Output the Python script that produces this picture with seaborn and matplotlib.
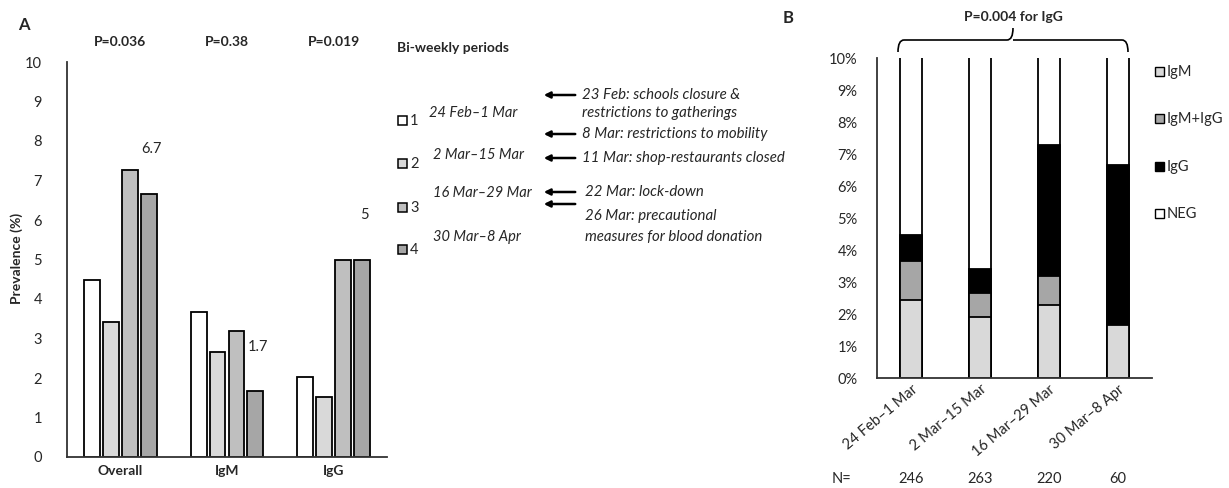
import numpy as np
import pandas as pd
import matplotlib
matplotlib.use("Agg")
import matplotlib.pyplot as plt
import seaborn as sns
from matplotlib.patches import Rectangle, PathPatch, FancyArrowPatch
from matplotlib.path import Path

# ---- data ----
groups = ["Overall", "IgM", "IgG"]
period_ids = ["1", "2", "3", "4"]
periods = ["24 Feb\u20131 Mar", "2 Mar\u201315 Mar", "16 Mar\u201329 Mar", "30 Mar\u20138 Apr"]
overall = [4.47, 3.42, 7.27, 6.67]
igm_prev = [3.66, 2.66, 3.18, 1.67]
igg_prev = [2.03, 1.52, 5.00, 5.00]
p_values = ["P=0.036", "P=0.38", "P=0.019"]
shown_labels = ["6.7", "1.7", "5"]

n_donors = [246, 263, 220, 60]
igm_only = [2.44, 1.90, 2.27, 1.67]
igm_igg = [1.22, 0.76, 0.91, 0.00]
igg_only = [0.81, 0.76, 4.09, 5.00]
neg = [100 - a - b - c for a, b, c in zip(igm_only, igm_igg, igg_only)]
status = ["IgM", "IgM+IgG", "IgG", "NEG"]

events = ["23 Feb: schools closure &", "restrictions to gatherings",
          "8 Mar: restrictions to mobility", "11 Mar: shop-restaurants closed",
          "22 Mar: lock-down", "26 Mar: precautional", "measures for blood donation"]

# ---- style ----
sns.set_style("white")
plt.rcParams["font.family"] = ["Lato", "DejaVu Sans"]
plt.rcParams["font.size"] = 10

W, H = 1229, 488
fig = plt.figure(figsize=(W / 100, H / 100), dpi=100)


def fx(x):
    return x / W


def fy(y):
    return 1 - y / H


period_colors = ["#ffffff", "#d9d9d9", "#bfbfbf", "#a6a6a6"]
axis_col = "#333333"

# ---- panel A ----
axA = fig.add_axes([fx(67), fy(457), fx(387) - fx(67), fy(62) - fy(457)])
dfA = pd.DataFrame({
    "group": np.repeat(groups, 4),
    "period": period_ids * 3,
    "value": overall + igm_prev + igg_prev,
})
sns.barplot(data=dfA, x="group", y="value", hue="period", order=groups,
            hue_order=period_ids, palette=period_colors, width=0.71, gap=0.16,
            edgecolor="black", linewidth=1.3, legend=False, ax=axA)
axA.set_ylim(0, 10)
axA.set_xlim(-0.5, 2.5)
axA.set_yticks(range(0, 11))
axA.tick_params(axis="y", length=0, pad=18, labelsize=10.5)
axA.tick_params(axis="x", length=0, pad=6)
for lab in axA.get_xticklabels():
    lab.set_fontweight("bold")
axA.set_xlabel("")
axA.set_ylabel("")
for s in ["top", "right"]:
    axA.spines[s].set_visible(False)
for s in ["left", "bottom"]:
    axA.spines[s].set_color(axis_col)
    axA.spines[s].set_linewidth(1.3)
fig.text(fx(17), fy(258), "Prevalence (%)", rotation=90, ha="center", va="center",
         fontweight="bold", fontsize=10)

# value labels above the 4th period bar of each group
last_bars = axA.containers[3]
for bar, txt in zip(last_bars, shown_labels):
    axA.annotate(txt, (bar.get_x() + bar.get_width() / 2, bar.get_height()),
                 xytext=(2, 27), textcoords="offset points", ha="center",
                 va="bottom", fontsize=10.5)

for i, p in enumerate(p_values):
    axA.text(i, 10.35, p, ha="center", va="bottom", fontweight="bold", fontsize=10)

fig.text(fx(18), fy(25), "A", fontweight="bold", fontsize=12, va="center")
fig.text(fx(397), fy(48), "Bi-weekly periods", fontweight="bold", fontsize=10, va="center")

# period legend
sq_y = [121, 164, 208, 250]
lab_y = [113, 155, 193, 237]
for pid, col, y in zip(period_ids, period_colors, sq_y):
    fig.add_artist(Rectangle((fx(398), fy(y + 4)), fx(9), 9 / H, facecolor=col,
                             edgecolor="black", linewidth=1.1))
    fig.text(fx(410), fy(y), pid, va="center", fontsize=10.5)
for pl, y, x in zip(periods, lab_y, [429, 433, 433, 433]):
    fig.text(fx(x), fy(y), pl, va="center", style="italic", fontsize=10.5)

# events with arrows
for y in [95, 134, 158, 192, 204]:
    fig.add_artist(FancyArrowPatch(
        (fx(578), fy(y)), (fx(541), fy(y)), transform=fig.transFigure,
        arrowstyle="-|>", mutation_scale=9, linewidth=1.8, color="black"))
ev_pos = [(582, 95), (582, 113), (582, 134), (582, 158), (585, 192), (585, 216), (585, 237)]
for txt, (x, y) in zip(events, ev_pos):
    fig.text(fx(x), fy(y), txt, va="center", style="italic", fontsize=10.8)

# ---- panel B ----
axB = fig.add_axes([fx(877), fy(378), fx(1152) - fx(877), fy(58) - fy(378)])
cum = np.cumsum([igm_only, igm_igg, igg_only, neg], axis=0)
status_colors = ["#d9d9d9", "#a6a6a6", "#000000", "#ffffff"]
# draw tallest (cumulative) first so lower segments sit on top
for k in [3, 2, 1, 0]:
    dfB = pd.DataFrame({"period": periods, "value": cum[k]})
    sns.barplot(data=dfB, x="period", y="value", order=periods, color=status_colors[k],
                width=0.32, edgecolor="black", linewidth=1.3, ax=axB)
axB.set_ylim(0, 10)
axB.set_xlim(-0.5, 3.5)
axB.set_yticks(range(0, 11))
axB.set_yticklabels([f"{v}%" for v in range(0, 11)])
axB.tick_params(axis="y", length=0, pad=14, labelsize=10.5)
axB.tick_params(axis="x", length=0, pad=3, labelsize=10.5)
plt.setp(axB.get_xticklabels(), rotation=40, ha="right", rotation_mode="anchor")
axB.set_xlabel("")
axB.set_ylabel("")
for s in ["top", "right"]:
    axB.spines[s].set_visible(False)
for s in ["left", "bottom"]:
    axB.spines[s].set_color(axis_col)
    axB.spines[s].set_linewidth(1.3)

# N row
fig.text(fx(842), fy(479), "N=", ha="center", va="center", fontsize=10.5)
for i, n in enumerate(n_donors):
    xd = axB.transData.transform((i, 0))[0]
    fig.text(xd / fig.dpi / fig.get_figwidth(), fy(479), str(n), ha="center",
             va="center", fontsize=10.5)

# status legend
for st, col, y in zip(status, status_colors, [72, 119, 167, 214]):
    fig.add_artist(Rectangle((fx(1155), fy(y + 4)), fx(9), 9 / H, facecolor=col,
                             edgecolor="black", linewidth=1.0))
    fig.text(fx(1167), fy(y), st, va="center", fontsize=10.5)

# brace
xl, xr, xm = 898, 1128, 1013
yb, yh, yt = 52, 40, 28
verts = [(xl, yb), (xl, yh), (xl + 6, yh), (xm - 6, yh), (xm, yh), (xm, yt),
         (xm, yh), (xm + 6, yh), (xr - 6, yh), (xr, yh), (xr, yb)]
codes = [Path.MOVETO, Path.CURVE3, Path.CURVE3, Path.LINETO, Path.CURVE3, Path.CURVE3,
         Path.MOVETO, Path.CURVE3, Path.LINETO, Path.CURVE3, Path.CURVE3]
verts = [(fx(x), fy(y)) for x, y in verts]
fig.add_artist(PathPatch(Path(verts, codes), transform=fig.transFigure,
                         facecolor="none", edgecolor="black", linewidth=1.2))
fig.text(fx(xm), fy(17), "P=0.004 for IgG", ha="center", va="center",
         fontweight="bold", fontsize=10)
fig.text(fx(783), fy(18), "B", fontweight="bold", fontsize=12, va="center")

fig.savefig("out.png", dpi=100)
